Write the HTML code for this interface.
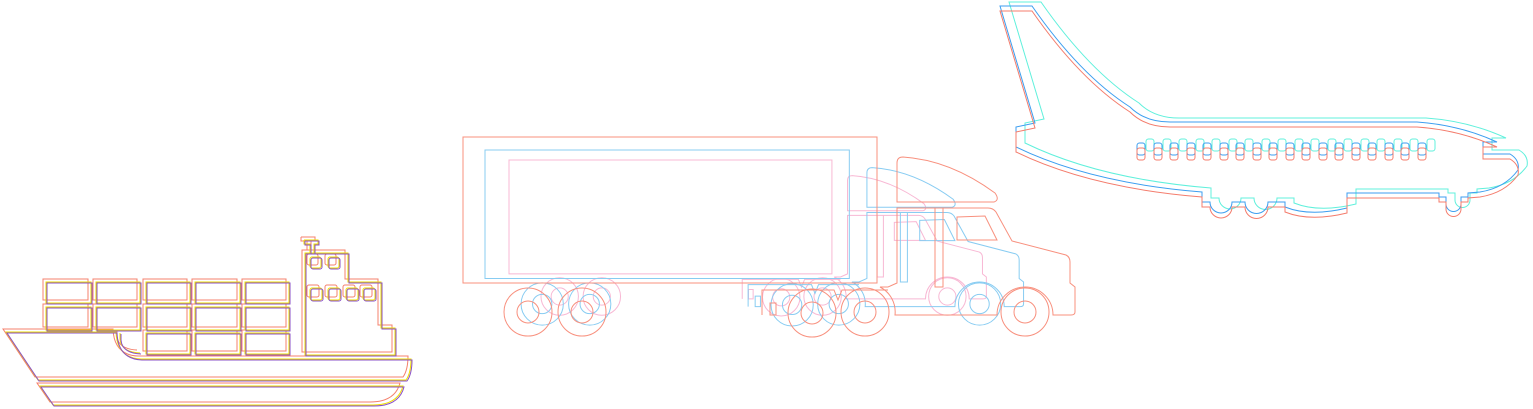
<!DOCTYPE html>
<html><head><meta charset="utf-8"><style>
html,body{margin:0;padding:0;background:#fff;width:1533px;height:409px;overflow:hidden}
svg{display:block}
path,rect,circle,line,polyline{fill:none;vector-effect:non-scaling-stroke}
</style></head><body>
<svg width="1533" height="409" viewBox="0 0 1533 409" xmlns="http://www.w3.org/2000/svg">
<defs>
<g id="ship">
  <path d="M3,329 L113,329 Q114,355 138,356 L408,356 Q408,370 403,377 L35,377 Z"/>
  <path d="M37,383 L400,383 Q395,402 370,402 L50,402 Z"/>
  <rect x="43" y="279" width="45" height="21"/><rect x="93" y="279" width="44" height="21"/>
  <rect x="143" y="279" width="44" height="21"/><rect x="192" y="279" width="45" height="21"/>
  <rect x="242" y="279" width="44" height="21"/>
  <rect x="43" y="304" width="45" height="23"/><rect x="93" y="304" width="44" height="23"/>
  <rect x="143" y="304" width="44" height="23"/><rect x="192" y="304" width="45" height="23"/>
  <rect x="242" y="304" width="44" height="23"/>
  <path d="M117,330 L117,336 Q118,349 137,350"/>
  <rect x="143" y="330" width="44" height="21"/><rect x="192" y="330" width="45" height="21"/>
  <rect x="242" y="330" width="44" height="21"/>
  <path d="M302,352 L302,250 L345,250 L345,279 L378,279 L378,325 L392,325 L392,352 Z"/>
  <path d="M301,237 L315,237 L315,241 L311,241 L311,250 M301,237 L301,241 L307,241 L307,250"/>
  <rect x="307" y="254" width="11" height="11" rx="2"/><rect x="325" y="254" width="11" height="11" rx="2"/>
  <rect x="307" y="285" width="12" height="12" rx="2"/><rect x="325" y="285" width="12" height="12" rx="2"/>
  <rect x="343" y="285" width="12" height="12" rx="2"/><rect x="360" y="285" width="12" height="12" rx="2"/>
</g>
<g id="truck">
  <rect x="463" y="137" width="414" height="146"/>
  <circle cx="528" cy="312" r="24"/><circle cx="528" cy="312" r="11"/>
  <circle cx="582" cy="312" r="24"/><circle cx="582" cy="312" r="11"/>
  <path d="M762,315 L762,290 L834,290 L838,300 L842,290 L888,290"/>
  <rect x="770" y="303" width="6" height="12"/>
  <circle cx="812" cy="313" r="24"/><circle cx="812" cy="313" r="11"/>
  <circle cx="865" cy="312" r="24"/><circle cx="865" cy="312" r="11"/>
  <path d="M897,202 L897,163 Q897,157 903,157 Q950,160 995,193 Q1000,200 994,202 Z"/>
  <path d="M895,315 A28,28 0 0 0 880,287 L888,287 L897,283 L897,208 L988,208 Q993,208 996,212 L1012,241 L1066,255 Q1070,257 1070,262 L1070,283 L1075,287 L1075,312 Q1075,315 1071,315 L1053,315 A28,28 0 0 0 997,315 Z"/>
  <path d="M957,217 L985,216 L997,240 L957,240 Z"/>
  <path d="M935,208 L935,287 L943,287 L943,208"/>
  <circle cx="1025" cy="312" r="24"/><circle cx="1025" cy="312" r="11"/>
</g>
<g id="plane">
  <path d="M1000,11 L1032,11 Q1080,80 1130,112 Q1145,127 1170,127 L1417,127 Q1460,130 1497,147 L1483,147 L1483,159 L1510,159 Q1520,165 1518,175 Q1505,193 1480,197 L1468,198 L1468,202 L1461,202 L1461,209 A7,7 0 1 1 1446,209 L1446,202 L1439,202 L1439,198 L1347,198 L1347,213 Q1310,222 1285,212 L1285,207 L1268,207 A11,11 0 0 1 1245,207 L1232,207 A11,11 0 0 1 1210,207 L1202,207 L1202,197 Q1090,188 1016,152 L1016,132 L1035,128 Z"/>
  <g>
  <rect x="1137" y="148" width="8" height="12" rx="2.5"/><rect x="1154" y="148" width="8" height="12" rx="2.5"/>
  <rect x="1170" y="148" width="8" height="12" rx="2.5"/><rect x="1187" y="148" width="8" height="12" rx="2.5"/>
  <rect x="1203" y="148" width="8" height="12" rx="2.5"/><rect x="1220" y="148" width="8" height="12" rx="2.5"/>
  <rect x="1236" y="148" width="8" height="12" rx="2.5"/><rect x="1253" y="148" width="8" height="12" rx="2.5"/>
  <rect x="1269" y="148" width="8" height="12" rx="2.5"/><rect x="1286" y="148" width="8" height="12" rx="2.5"/>
  <rect x="1302" y="148" width="8" height="12" rx="2.5"/><rect x="1319" y="148" width="8" height="12" rx="2.5"/>
  <rect x="1335" y="148" width="8" height="12" rx="2.5"/><rect x="1352" y="148" width="8" height="12" rx="2.5"/>
  <rect x="1368" y="148" width="8" height="12" rx="2.5"/><rect x="1385" y="148" width="8" height="12" rx="2.5"/>
  <rect x="1401" y="148" width="8" height="12" rx="2.5"/><rect x="1418" y="148" width="8" height="12" rx="2.5"/>
  </g>
</g>
</defs>
<use href="#ship" stroke="#f4806c" stroke-width="1"/>
<use href="#ship" transform="translate(3,3)" stroke="#eee000" stroke-width="1"/>
<use href="#ship" transform="translate(4,4)" stroke="#8a50c8" stroke-width="1"/>
<use href="#truck" transform="translate(147.86,53.14) scale(0.78)" stroke="#f8b8d4" stroke-width="1"/>
<use href="#truck" transform="translate(77.56,29.44) scale(0.88)" stroke="#88ccf2" stroke-width="1"/>
<use href="#truck" stroke="#f8907e" stroke-width="1"/>
<use href="#plane" transform="translate(9,-9)" stroke="#60f0dc" stroke-width="1"/>
<use href="#plane" transform="translate(0,-5)" stroke="#3c9ef0" stroke-width="1"/>
<use href="#plane" stroke="#f47c6c" stroke-width="1"/>
</svg>
</body></html>
